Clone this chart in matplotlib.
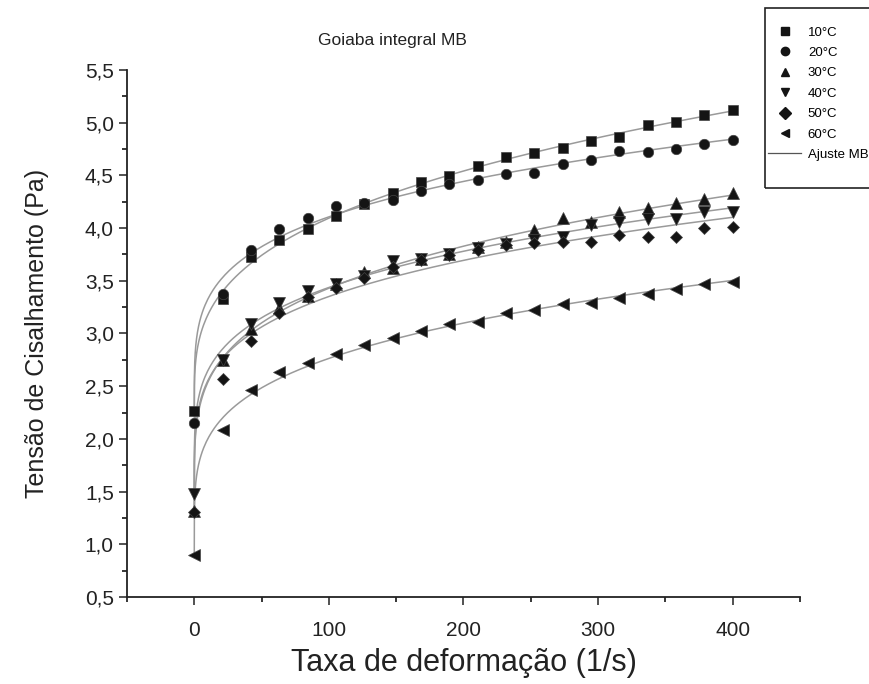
import numpy as np
import matplotlib
matplotlib.use("Agg")
import matplotlib.pyplot as plt
from matplotlib.lines import Line2D
from matplotlib.patches import Rectangle
from matplotlib.ticker import MultipleLocator, FuncFormatter

plt.rcParams['font.family'] = ['Liberation Sans', 'DejaVu Sans']

# taxa de deformação (1/s)
taxa = np.linspace(0, 400, 20)

# tensão de cisalhamento (Pa) por temperatura
t10 = [2.26, 3.33, 3.73, 3.89, 3.99, 4.11, 4.23, 4.33, 4.44, 4.49,
       4.59, 4.67, 4.71, 4.76, 4.83, 4.86, 4.98, 5.01, 5.07, 5.12]
t20 = [2.15, 3.37, 3.79, 3.99, 4.10, 4.21, 4.24, 4.27, 4.35, 4.42,
       4.46, 4.51, 4.52, 4.61, 4.65, 4.73, 4.72, 4.75, 4.80, 4.84]
t30 = [1.32, 2.75, 3.04, 3.24, 3.36, 3.47, 3.58, 3.62, 3.71, 3.75,
       3.82, 3.87, 3.98, 4.10, 4.06, 4.15, 4.19, 4.24, 4.28, 4.33]
t40 = [1.48, 2.75, 3.09, 3.29, 3.40, 3.47, 3.55, 3.69, 3.71, 3.75,
       3.81, 3.85, 3.89, 3.92, 4.03, 4.06, 4.09, 4.09, 4.15, 4.15]
t50 = [1.31, 2.57, 2.93, 3.19, 3.35, 3.43, 3.53, 3.63, 3.70, 3.74,
       3.79, 3.84, 3.86, 3.87, 3.87, 3.93, 3.92, 3.92, 4.00, 4.01]
t60 = [0.90, 2.08, 2.46, 2.63, 2.72, 2.81, 2.89, 2.96, 3.02, 3.09,
       3.11, 3.19, 3.22, 3.28, 3.29, 3.34, 3.37, 3.42, 3.47, 3.49]

series = [t10, t20, t30, t40, t50, t60]
labels = ['10°C', '20°C', '30°C', '40°C', '50°C', '60°C']
markers = ['s', 'o', '^', 'v', 'D', '<']
msizes = [7, 7.5, 8, 8, 6, 8]


def ajuste_mb(x, y):
    # Mizrahi-Berk: sqrt(tau) = K0 + K * gamma^n
    y = np.sqrt(np.asarray(y))
    best = None
    for n in np.linspace(0.05, 1.0, 500):
        A = np.column_stack([np.ones_like(x), x ** n])
        coef = np.linalg.lstsq(A, y, rcond=None)[0]
        err = np.sum((A @ coef - y) ** 2)
        if best is None or err < best[0]:
            best = (err, coef[0], coef[1], n)
    return best[1:]


fig = plt.figure(figsize=(8.69, 6.84), dpi=100)
ax = fig.add_axes([0.1461, 0.1272, 0.7745, 0.7705])

xx = np.concatenate([np.linspace(0, 5, 100), np.linspace(5, 400, 400)])
for ys, mk, ms in zip(series, markers, msizes):
    k0, k, n = ajuste_mb(taxa, ys)
    ax.plot(xx, (k0 + k * xx ** n) ** 2, color='#9a9a9a', lw=1.1, zorder=2)
    ax.plot(taxa, ys, linestyle='none', marker=mk, ms=ms,
            color='#141414', mec='#444444', mew=0.5, zorder=3)

ax.set_xlim(-50, 450)
ax.set_ylim(0.5, 5.5)
ax.xaxis.set_major_locator(MultipleLocator(100))
ax.xaxis.set_minor_locator(MultipleLocator(50))
ax.yaxis.set_major_locator(MultipleLocator(0.5))
ax.yaxis.set_minor_locator(MultipleLocator(0.25))
ax.yaxis.set_major_formatter(FuncFormatter(lambda v, p: f"{v:.1f}".replace('.', ',')))
ax.tick_params(which='major', direction='out', length=6, width=1.1, labelsize=15, colors='#222222')
ax.tick_params(which='minor', direction='out', length=3.5, width=1.1)
ax.tick_params(axis='x', which='major', pad=11)
for s in ['top', 'right']:
    ax.spines[s].set_visible(False)
for s in ['left', 'bottom']:
    ax.spines[s].set_linewidth(1.3)
    ax.spines[s].set_color('#222222')

ax.set_xlabel('Taxa de deformação (1/s)', fontsize=22, labelpad=6, color='#222222')
ax.set_ylabel('Tensão de Cisalhamento (Pa)', fontsize=18, labelpad=26, color='#222222')
fig.text(392 / 869, 1 - 40 / 684, 'Goiaba integral MB', fontsize=12.5,
         ha='center', va='center', color='#222222')

# legenda
fig.patches.append(Rectangle((765 / 869, 1 - 188 / 684), 0.2, 180 / 684,
                             transform=fig.transFigure, fill=False,
                             lw=1.2, ec='#222222'))
handles = [Line2D([], [], linestyle='none', marker=mk, ms=6, color='#141414')
           for mk in markers]
handles.append(Line2D([], [], color='#555555', lw=0.9))
fig.legend(handles, labels + ['Ajuste MB'], loc='upper left',
           bbox_to_anchor=(763 / 869, 1 - 21 / 684), frameon=False,
           fontsize=9.5, labelspacing=0.62, handlelength=2.5,
           handletextpad=0.5, borderaxespad=0)

fig.savefig('out.png', dpi=100)
